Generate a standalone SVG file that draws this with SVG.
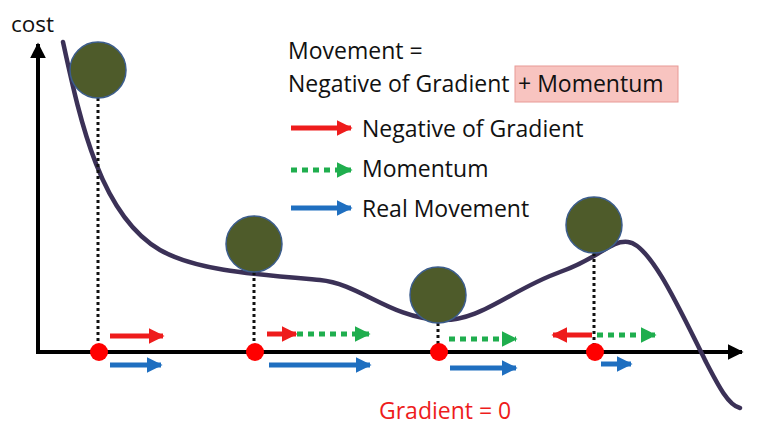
<svg xmlns="http://www.w3.org/2000/svg" width="774" height="440" viewBox="0 0 774 440">
<defs>
<style>
text{font-family:"Open Sans","Noto Sans","Liberation Sans",Arial,sans-serif;fill:#111}
.lbl{font-size:23px}
.ball{fill:#4e5b2a;stroke:#3c5d8c;stroke-width:1.5}
.drop{stroke:#111;stroke-width:3;stroke-dasharray:3 3}
.dot{fill:#ff0000}
.red{stroke:#ee1c1c;stroke-width:5;fill:none}
.grn{stroke:#1fae4e;stroke-width:5;stroke-dasharray:6 5;fill:none}
.blu{stroke:#1f6fc0;stroke-width:5;fill:none}
</style>
<marker id="ax" viewBox="0 0 10 10" refX="9" refY="5" markerWidth="4" markerHeight="4" orient="auto"><path d="M0,0 L10,5 L0,10 z" fill="#000"/></marker>
<marker id="mr" viewBox="0 0 10 10" refX="9" refY="5" markerWidth="3.2" markerHeight="3.2" orient="auto"><path d="M0,0 L10,5 L0,10 z" fill="#ee1c1c"/></marker>
<marker id="mg" viewBox="0 0 10 10" refX="9" refY="5" markerWidth="3.2" markerHeight="3.2" orient="auto"><path d="M0,0 L10,5 L0,10 z" fill="#1fae4e"/></marker>
<marker id="mb" viewBox="0 0 10 10" refX="9" refY="5" markerWidth="3.2" markerHeight="3.2" orient="auto"><path d="M0,0 L10,5 L0,10 z" fill="#1f6fc0"/></marker>
</defs>
<rect width="774" height="440" fill="#fff"/>

<g id="axes">
<line x1="38" y1="352" x2="38" y2="44" stroke="#000" stroke-width="4" marker-end="url(#ax)"/>
<line x1="36" y1="352" x2="742" y2="352" stroke="#000" stroke-width="4" marker-end="url(#ax)"/>
<text x="11" y="32" class="lbl" style="font-size:22.5px">cost</text>
</g>

<g id="curve">
<path d="M63,42 C80,120 100,215 160,250 C195,270 250,274 320,280 C360,284 390,318 440,320 C480,322 510,290 560,272 C600,258 610,240 628,242 C650,244 680,310 705,360 C718,385 728,405 740,408" fill="none" stroke="#3b3157" stroke-width="4.5" stroke-linecap="round"/>
</g>

<g id="drops">
<line class="drop" x1="98" y1="98" x2="98" y2="350"/>
<line class="drop" x1="254" y1="272" x2="254" y2="350"/>
<line class="drop" x1="438" y1="323" x2="438" y2="350"/>
<line class="drop" x1="594" y1="253" x2="594" y2="350"/>
</g>

<g id="ball1"><circle class="ball" cx="98" cy="70" r="28"/></g>
<g id="ball2"><circle class="ball" cx="254" cy="244" r="28"/></g>
<g id="ball3"><circle class="ball" cx="438" cy="295" r="28"/></g>
<g id="ball4"><circle class="ball" cx="594" cy="225" r="28"/></g>

<g id="points">
<circle class="dot" cx="99" cy="352" r="9"/>
<circle class="dot" cx="255" cy="352" r="9"/>
<circle class="dot" cx="439" cy="352" r="9"/>
<circle class="dot" cx="595" cy="352" r="9"/>
</g>

<g id="connectors">
<line class="red" x1="110" y1="336" x2="163" y2="336" marker-end="url(#mr)"/>
<line class="blu" x1="110" y1="365" x2="161" y2="365" marker-end="url(#mb)"/>

<line class="red" x1="267" y1="334" x2="296" y2="334" marker-end="url(#mr)"/>
<line class="grn" x1="297" y1="334" x2="369" y2="334" marker-end="url(#mg)"/>
<line class="blu" x1="269" y1="365" x2="370" y2="365" marker-end="url(#mb)"/>

<line class="grn" x1="449" y1="339" x2="516" y2="339" marker-end="url(#mg)"/>
<line class="blu" x1="450" y1="368" x2="516" y2="368" marker-end="url(#mb)"/>

<line class="red" x1="592" y1="335" x2="553" y2="335" marker-end="url(#mr)"/>
<line class="grn" x1="597" y1="335" x2="655" y2="335" marker-end="url(#mg)"/>
<line class="blu" x1="601" y1="364" x2="631" y2="364" marker-end="url(#mb)"/>
</g>

<g id="legend">
<text x="288" y="59" class="lbl">Movement =</text>
<text x="288" y="92" class="lbl">Negative of Gradient</text>
<rect x="515" y="66" width="163" height="36" fill="#f8c4c0" stroke="#e89a96" stroke-width="1"/>
<text x="518" y="92" class="lbl">+ Momentum</text>
<line class="red" x1="291" y1="128" x2="351" y2="128" marker-end="url(#mr)"/>
<text x="362" y="137" class="lbl">Negative of Gradient</text>
<line class="grn" x1="291" y1="170" x2="351" y2="170" marker-end="url(#mg)"/>
<text x="362" y="177" class="lbl">Momentum</text>
<line class="blu" x1="291" y1="208" x2="351" y2="208" marker-end="url(#mb)"/>
<text x="362" y="217" class="lbl">Real Movement</text>
</g>

<g id="zero">
<text x="379" y="419" class="lbl" style="fill:#ee1c1c">Gradient = 0</text>
</g>
</svg>
